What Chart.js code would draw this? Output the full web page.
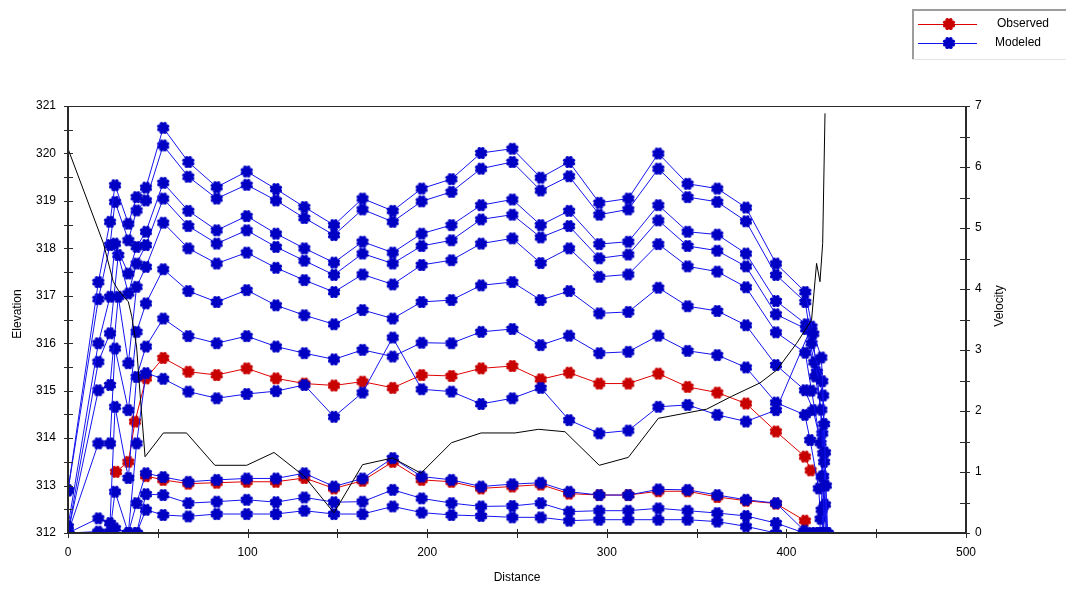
<!DOCTYPE html>
<html>
<head>
<meta charset="utf-8">
<title>Elevation and Velocity Profile</title>
<script src="https://cdn.jsdelivr.net/npm/chart.js@4/dist/chart.umd.min.js"></script>
<style>
  html, body { margin: 0; padding: 0; background: #ffffff; }
  #wrap { position: relative; width: 1066px; height: 590px; }
  canvas { display: block; }
</style>
</head>
<body>
<div id="wrap"><canvas id="chart" width="1066" height="590"></canvas></div>
<script>
// Shared survey stations (distance) for the interior of every profile
const stations = [53, 67, 82.8, 99.5, 115.8, 131.6, 148.1, 164, 180.8, 196.9, 213.5, 230, 247.4, 263.2, 279, 295.8, 312, 328.7, 345, 361.5, 377.5, 394.2];

// Modeled water-surface profiles: upstream points [distance, elevation], station elevations, downstream points
const modeled1Head = [[0,312.9],[16.9,317.29],[23.4,318.56],[26.2,319.33],[33.6,318.52],[38.2,319.08],[43.4,319.28]];
const modeled1 = [320.54,319.82,319.29,319.62,319.25,318.87,318.49,319.05,318.79,319.26,319.46,320.01,320.10,319.49,319.82,318.96,319.05,320.00,319.36,319.26,318.86,317.68];
const modeled1Tail = [[410.5,317.08],[415,316.2],[419.5,315.7],[421,314.3],[422,313.0],[423,312.0]];

const modeled2Head = [[0,312.9],[16.9,316.93],[23.4,318.07],[26.2,318.98],[33.6,318.17],[38.2,318.80],[43.4,319.01]];
const modeled2 = [320.17,319.51,319.05,319.34,319.01,318.64,318.28,318.82,318.56,318.99,319.19,319.68,319.82,319.22,319.52,318.71,318.82,319.68,319.08,318.98,318.57,317.44];
const modeled2Tail = [[410.5,316.87],[414,316.0],[420,315.2],[421.5,313.7],[422.5,312.0]];

const modeled3Head = [[0,312.14],[16.9,316.00],[23.4,316.98],[26.2,318.10],[33.6,317.47],[38.2,318.03],[43.4,318.35]];
const modeled3 = [319.38,318.79,318.38,318.68,318.31,318.00,317.70,318.14,317.91,318.31,318.49,318.91,319.03,318.49,318.79,318.09,318.14,318.91,318.35,318.29,317.89,316.89];
const modeled3Tail = [[411,316.40],[415.5,315.6],[420.5,314.9],[421,313.5],[422,312.0]];

const modeled4Head = [[0,312.0],[16.9,315.61],[23.4,316.21],[28,317.86],[33.6,317.05],[38.2,317.68],[43.4,318.07]];
const modeled4 = [319.05,318.47,318.10,318.38,318.03,317.74,317.44,317.89,317.68,318.05,318.17,318.61,318.71,318.23,318.47,317.79,317.87,318.59,318.05,317.95,317.62,316.61];
const modeled4Tail = [[411,316.30],[416,315.3],[419.5,314.6],[420.5,313.2],[421,312.0]];

const modeled5Head = [[0,312.0],[16.9,315.01],[23.4,315.12],[28,316.98],[33.6,315.58],[38.2,317.19],[43.4,317.61]];
const modeled5 = [318.54,318.00,317.68,317.91,317.59,317.33,317.08,317.45,317.24,317.65,317.75,318.10,318.21,317.69,318.00,317.40,317.45,318.09,317.62,317.51,317.18,316.23];
const modeled5Tail = [[410.5,315.80],[414,315.0],[419,313.9],[421.5,312.6],[420,312.0]];

const modeled6Head = [[0,312.0],[16.9,313.89],[23.4,313.89],[26.2,315.89],[33.6,314.59],[38.2,316.24],[43.4,316.84]];
const modeled6 = [317.56,317.10,316.87,317.12,316.80,316.59,316.40,316.70,316.52,316.87,316.91,317.22,317.29,316.91,317.10,316.63,316.66,317.17,316.78,316.68,316.38,315.54];
const modeled6Tail = [[410.3,315.01],[414.9,314.59],[420.5,313.68],[419.6,312.49],[421,312.0]];

const modeled7Head = [[0,312.0],[16.9,312.31],[23.4,312.21],[26.2,314.66],[33.6,313.16],[38.2,315.29],[43.4,315.93]];
const modeled7 = [316.52,316.15,316.00,316.15,315.93,315.79,315.66,315.86,315.72,316.01,316.00,316.24,316.30,315.96,316.16,315.79,315.82,316.16,315.84,315.75,315.49,314.75];
const modeled7Tail = [[410.3,314.49],[413.2,313.96],[418,312.94],[419,312.3],[418.5,312.0]];

const modeled8Head = [[0,312.0],[16.9,312.03],[23.4,312.03],[26.2,312.87],[33.6,312.0],[38.2,313.89],[43.4,315.37]];
const modeled8 = [315.25,314.98,314.84,314.93,314.99,315.12,314.45,314.96,316.12,315.03,314.98,314.72,314.84,315.06,314.38,314.10,314.16,314.66,314.70,314.49,314.35,314.59];
const modeled8Tail = [[414,316.35],[417,315.4],[420,314.1],[419.6,313.19],[420,312.0]];

const modeled9Head = [[0,312.0],[16.9,312.0],[26.2,312.1],[33.6,312.0],[38.2,312.63],[43.4,313.26]];
const modeled9 = [313.18,313.08,313.12,313.15,313.15,313.26,312.98,313.15,313.58,313.19,313.12,312.98,313.03,313.06,312.87,312.80,312.80,312.92,312.91,312.80,312.70,312.63];
const modeled9Tail = [[410,312.05],[414,312.0],[418,312.0]];

const modeled10Head = [[0,312.0],[24.3,312.0],[38.2,312.0],[43.4,312.82]];
const modeled10 = [312.80,312.63,312.66,312.70,312.65,312.75,312.65,312.66,312.91,312.73,312.63,312.56,312.57,312.63,312.45,312.47,312.47,312.52,312.47,312.42,312.36,312.21];
const modeled10Tail = [[410,312.0],[416,312.0]];

const modeled11Head = [[0,312.0],[33.6,312.0],[38.2,312.0],[43.4,312.49]];
const modeled11 = [312.38,312.35,312.40,312.40,312.40,312.47,312.40,312.40,312.56,312.43,312.38,312.36,312.33,312.33,312.26,312.28,312.28,312.28,312.28,312.24,312.14,312.0];
const modeled11Tail = [[410,312.0],[420,312.0]];

// Observed water-surface profiles
const observedHighHead = [[26.7,313.29],[33.6,313.50],[37.3,314.35],[43.4,315.26]];
const observedHigh = [315.69,315.40,315.33,315.47,315.26,315.15,315.11,315.19,315.06,315.33,315.31,315.47,315.52,315.24,315.38,315.15,315.15,315.36,315.08,314.96,314.73,314.14];
const observedHighTail = [[410.3,313.61],[413.5,313.32]];

const observedLowHead = [[43.4,313.2]];
const observedLow = [313.12,313.04,313.06,313.08,313.08,313.16,312.94,313.10,313.50,313.12,313.08,312.94,312.98,313.02,312.83,312.80,312.80,312.88,312.88,312.76,312.68,312.62];
const observedLowTail = [[410.3,312.26]];

// Velocity along the reach (right axis)
const velocityDistance = [0, 19.7, 25.2, 28, 33.6, 35.5, 38.2, 40.1, 42.9, 53.1, 66, 81.8, 99.5, 114.7, 131.6, 148.1, 164, 180.8, 196.5, 213.5, 230, 248.9, 262, 276.7, 295.8, 312, 328.7, 355.6, 369.5, 385.3, 394.6, 405.7, 414, 416.8, 418.7, 420.2, 421.5];
const velocityValue    = [6.30, 4.75, 4.12, 3.98, 3.79, 3.55, 3.05, 2.29, 1.25, 1.64, 1.64, 1.11, 1.11, 1.32, 0.93, 0.33, 1.12, 1.23, 0.98, 1.48, 1.64, 1.64, 1.70, 1.66, 1.11, 1.24, 1.88, 2.03, 2.24, 2.46, 2.67, 3.11, 3.49, 4.42, 4.12, 4.75, 6.88];

// Axis ranges and labels
const distanceTicks = [0, 100, 200, 300, 400, 500];
const elevationRange = [312, 321];
const velocityRange = [0, 7];

const BLUE_LINE = '#1414f0';
const BLUE_MARK = '#0000c4';
const RED_LINE = '#e00000';
const RED_MARK = '#c80000';
const FONT = '"Liberation Sans", Arial, sans-serif';

// Notched round marker used for every profile point
function makeMarker(color) {
  const c = document.createElement('canvas');
  c.width = 14; c.height = 14;
  const g = c.getContext('2d');
  g.fillStyle = color;
  g.beginPath(); g.arc(7, 7, 4.7, 0, Math.PI * 2); g.fill();
  for (let k = 0; k < 8; k++) {
    const a = k * Math.PI / 4 + Math.PI / 8;
    g.beginPath();
    g.arc(7 + 4.5 * Math.cos(a), 7 + 4.5 * Math.sin(a), 1.9, 0, Math.PI * 2);
    g.fill();
  }
  return c;
}
const blueMarker = makeMarker(BLUE_MARK);
const redMarker = makeMarker(RED_MARK);

function profile(head, values, tail) {
  const pts = head.concat(stations.map((s, i) => [s, values[i]])).concat(tail);
  return pts.map(p => ({ x: p[0], y: p[1] }));
}

function seriesSet(color, marker, label) {
  return {
    label: label,
    borderColor: color,
    backgroundColor: color,
    borderWidth: 1,
    pointStyle: marker,
    pointRadius: 6,
    pointHoverRadius: 6,
    showLine: true,
    tension: 0,
    yAxisID: 'y'
  };
}

const modeledProfiles = [
  [modeled1Head, modeled1, modeled1Tail],
  [modeled2Head, modeled2, modeled2Tail],
  [modeled3Head, modeled3, modeled3Tail],
  [modeled4Head, modeled4, modeled4Tail],
  [modeled5Head, modeled5, modeled5Tail],
  [modeled6Head, modeled6, modeled6Tail],
  [modeled7Head, modeled7, modeled7Tail],
  [modeled8Head, modeled8, modeled8Tail],
  [modeled9Head, modeled9, modeled9Tail],
  [modeled10Head, modeled10, modeled10Tail],
  [modeled11Head, modeled11, modeled11Tail]
];
const observedProfiles = [
  [observedHighHead, observedHigh, observedHighTail],
  [observedLowHead, observedLow, observedLowTail]
];

const datasets = [];
// velocity first so it sits on top
datasets.push({
  label: 'Velocity',
  data: velocityDistance.map((d, i) => ({ x: d, y: velocityValue[i] })),
  borderColor: '#000000',
  borderWidth: 1,
  pointRadius: 0,
  showLine: true,
  tension: 0,
  yAxisID: 'y2'
});
modeledProfiles.forEach(p => {
  datasets.push(Object.assign(seriesSet(BLUE_LINE, blueMarker, 'Modeled'), { data: profile(p[0], p[1], p[2]) }));
});
observedProfiles.forEach(p => {
  datasets.push(Object.assign(seriesSet(RED_LINE, redMarker, 'Observed'), { data: profile(p[0], p[1], p[2]) }));
});

// Frame, crossing tick marks, axis titles and the legend box
const framePlugin = {
  id: 'frame',
  afterDraw(chart) {
    const { ctx, chartArea: a, scales } = chart;
    const x = scales.x, y = scales.y, y2 = scales.y2;
    ctx.save();
    ctx.strokeStyle = '#2a2a2a';
    ctx.lineWidth = 1;
    ctx.beginPath();
    ctx.moveTo(a.left, a.top + 0.5); ctx.lineTo(a.right, a.top + 0.5);
    ctx.stroke();
    ctx.lineWidth = 2;
    ctx.beginPath();
    ctx.moveTo(a.left, a.top); ctx.lineTo(a.left, a.bottom);
    ctx.moveTo(a.right, a.top); ctx.lineTo(a.right, a.bottom);
    ctx.moveTo(a.left - 1, a.bottom); ctx.lineTo(a.right + 1, a.bottom);
    ctx.stroke();
    ctx.lineWidth = 1;
    ctx.beginPath();
    for (let v = elevationRange[0]; v <= elevationRange[1] + 1e-9; v += 0.5) {
      const py = Math.round(y.getPixelForValue(v)) + 0.5;
      ctx.moveTo(a.left - 4, py); ctx.lineTo(a.left + 5, py);
    }
    for (let v = velocityRange[0]; v <= velocityRange[1] + 1e-9; v += 0.5) {
      const py = Math.round(y2.getPixelForValue(v)) + 0.5;
      ctx.moveTo(a.right - 6, py); ctx.lineTo(a.right + 4, py);
    }
    for (let d = 0; d <= 500; d += 50) {
      const px = Math.round(x.getPixelForValue(d)) + 0.5;
      ctx.moveTo(px, a.bottom - 4); ctx.lineTo(px, a.bottom + 5);
    }
    ctx.stroke();

    // axis titles
    ctx.fillStyle = '#000000';
    ctx.font = '12px ' + FONT;
    ctx.textAlign = 'center';
    ctx.textBaseline = 'middle';
    ctx.fillText('Distance', (a.left + a.right) / 2, 578);
    ctx.save();
    ctx.translate(18, 314); ctx.rotate(-Math.PI / 2);
    ctx.fillText('Elevation', 0, 0);
    ctx.restore();
    ctx.save();
    ctx.translate(1000, 306); ctx.rotate(-Math.PI / 2);
    ctx.fillText('Velocity', 0, 0);
    ctx.restore();

    // legend box
    const bx = 912, by = 9, bw = 160, bh = 50;
    ctx.fillStyle = '#ffffff';
    ctx.fillRect(bx, by, bw, bh);
    ctx.strokeStyle = '#9c9c9c';
    ctx.lineWidth = 2;
    ctx.beginPath();
    ctx.moveTo(bx + 1, by + bh); ctx.lineTo(bx + 1, by + 1); ctx.lineTo(bx + bw, by + 1);
    ctx.stroke();
    ctx.strokeStyle = '#e4e4e4';
    ctx.lineWidth = 1;
    ctx.beginPath();
    ctx.moveTo(bx, by + bh + 0.5); ctx.lineTo(bx + bw, by + bh + 0.5);
    ctx.stroke();
    const rows = [['Observed', RED_LINE, redMarker, 24, 997], ['Modeled', BLUE_LINE, blueMarker, 43, 995]];
    ctx.textAlign = 'left';
    ctx.font = '12px ' + FONT;
    rows.forEach(r => {
      ctx.strokeStyle = r[1];
      ctx.lineWidth = 1;
      ctx.beginPath();
      ctx.moveTo(918, r[3] + 0.5); ctx.lineTo(977, r[3] + 0.5);
      ctx.stroke();
      ctx.drawImage(r[2], 949 - 7, r[3] - 7);
      ctx.fillStyle = '#000000';
      ctx.fillText(r[0], r[4], r[3]);
    });
    ctx.restore();
  }
};

new Chart(document.getElementById('chart'), {
  type: 'scatter',
  data: { datasets: datasets },
  options: {
    responsive: false,
    animation: false,
    devicePixelRatio: 1,
    layout: { padding: { top: 106, right: 0, bottom: 0, left: 0 } },
    plugins: { legend: { display: false }, tooltip: { enabled: false } },
    scales: {
      x: {
        type: 'linear',
        min: 0, max: 500,
        grid: { display: false, drawTicks: false },
        border: { display: false },
        afterFit(s) { s.height = 57; },
        afterBuildTicks(s) { s.ticks = distanceTicks.map(v => ({ value: v })); },
        ticks: { padding: 12, color: '#000000', font: { family: FONT, size: 12 }, maxRotation: 0 }
      },
      y: {
        type: 'linear',
        position: 'left',
        min: elevationRange[0], max: elevationRange[1],
        grid: { display: false, drawTicks: false },
        border: { display: false },
        afterFit(s) { s.width = 68; },
        ticks: { stepSize: 1, padding: 12, color: '#000000', font: { family: FONT, size: 12 } }
      },
      y2: {
        type: 'linear',
        position: 'right',
        min: velocityRange[0], max: velocityRange[1],
        grid: { display: false, drawTicks: false },
        border: { display: false },
        afterFit(s) { s.width = 100; },
        ticks: { stepSize: 1, padding: 9, color: '#000000', font: { family: FONT, size: 12 } }
      }
    }
  },
  plugins: [framePlugin]
});
</script>
</body>
</html>
